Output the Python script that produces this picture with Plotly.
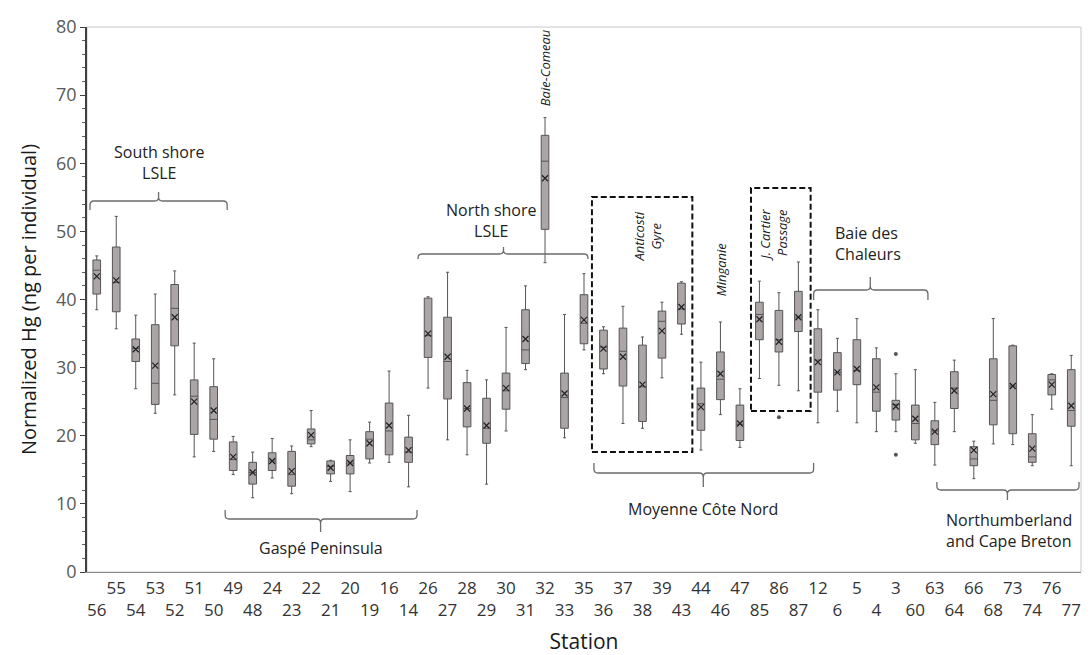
import plotly.graph_objects as go

# ---------------- data ----------------
stations = ["56", "55", "54", "53", "52", "51", "50", "49", "48", "24", "23", "22", "21",
            "20", "19", "16", "14", "26", "27", "28", "29", "30", "31", "32", "33", "35",
            "36", "37", "38", "39", "43", "44", "46", "47", "85", "86", "87", "12", "6",
            "5", "4", "3", "60", "63", "64", "66", "68", "73", "74", "76", "77"]

lower_whisker = [38.5, 35.7, 26.9, 23.3, 26.0, 16.9, 17.7, 14.3, 10.9, 13.8, 11.5, 18.4, 13.3,
                 11.8, 16.0, 16.1, 12.5, 27.0, 19.4, 17.2, 12.9, 20.7, 29.7, 45.4, 19.7, 32.6,
                 29.1, 21.8, 21.1, 28.5, 34.9, 17.9, 23.1, 18.3, 28.4, 27.4, 26.6, 21.9, 23.6,
                 21.9, 20.6, 20.6, 18.9, 15.7, 20.6, 13.7, 18.8, 18.7, 15.6, 23.9, 15.6]
q1 = [40.8, 38.2, 30.9, 24.6, 33.2, 20.2, 19.5, 14.9, 12.9, 14.9, 12.6, 18.8, 14.4,
      14.4, 16.6, 17.2, 16.1, 31.5, 25.4, 21.3, 18.9, 23.9, 30.6, 50.3, 21.1, 33.5,
      29.8, 27.3, 22.1, 31.4, 36.4, 20.8, 25.3, 19.3, 34.1, 32.3, 35.3, 26.4, 26.7,
      27.5, 23.6, 22.3, 19.4, 18.7, 24.0, 15.6, 21.6, 20.3, 16.1, 26.0, 21.4]
median = [44.3, 42.5, 32.8, 27.7, 38.7, 25.8, 22.4, 16.5, 14.6, 16.3, 14.3, 19.4, 15.5,
          16.0, 19.5, 20.7, 17.6, 34.7, 30.9, 24.0, 21.1, 26.6, 32.6, 60.3, 25.6, 36.5,
          33.0, 32.4, 27.2, 36.8, 38.6, 24.7, 28.3, 21.7, 37.8, 34.1, 37.4, 31.1, 29.3,
          29.6, 26.4, 24.6, 21.8, 20.7, 27.0, 16.6, 25.2, 27.3, 16.9, 28.2, 23.7]
q3 = [45.8, 47.7, 34.2, 36.3, 42.2, 28.2, 27.2, 19.1, 16.1, 17.5, 17.7, 21.0, 16.3,
      17.1, 20.6, 24.8, 19.8, 40.2, 37.4, 27.8, 25.5, 29.2, 38.5, 64.1, 29.2, 40.7,
      35.5, 35.8, 33.3, 38.3, 42.4, 27.0, 32.3, 24.5, 39.6, 38.4, 41.2, 35.7, 32.2,
      34.1, 31.3, 25.2, 24.5, 22.2, 29.4, 18.4, 31.3, 33.2, 20.3, 29.0, 29.7]
upper_whisker = [46.4, 52.2, 37.7, 40.8, 44.2, 33.6, 31.3, 19.9, 17.6, 19.6, 18.5, 23.7, 16.4,
                 19.4, 22.0, 29.5, 23.0, 40.4, 44.0, 29.6, 28.2, 35.9, 42.0, 66.7, 37.8, 43.8,
                 36.0, 39.0, 34.5, 39.6, 42.6, 30.8, 36.7, 26.9, 42.7, 41.0, 45.5, 38.5, 34.3,
                 37.2, 32.9, 29.1, 29.7, 24.9, 31.1, 19.2, 37.2, 33.3, 23.1, 29.1, 31.8]
mean = [43.4, 42.8, 32.7, 30.3, 37.4, 25.0, 23.7, 16.9, 14.6, 16.3, 14.8, 20.1, 15.3,
        16.0, 18.9, 21.5, 17.9, 35.0, 31.6, 24.0, 21.5, 27.0, 34.2, 57.8, 26.2, 37.0,
        32.8, 31.6, 27.5, 35.4, 38.9, 24.2, 29.1, 21.8, 37.1, 33.8, 37.4, 30.8, 29.3,
        29.8, 27.1, 24.3, 22.5, 20.6, 26.6, 17.9, 26.1, 27.3, 18.1, 27.5, 24.4]

outlier_station = ["86", "3", "3"]
outlier_value = [22.7, 32.0, 17.2]

# two-row tick labels: alternate stations on upper / lower row
tick_text = [s if i % 2 == 1 else "<br>" + s for i, s in enumerate(stations)]

# ---------------- helpers (reference pixel -> paper / data) ----------------
OFF = 8                       # default page body margin of the html page
W, H = 1091 - OFF, 655 - OFF
PL, PR, PT, PB = 87, 1087, 27, 572   # plot area as measured on the reference
PR_DRAW = 1081                        # drawn right edge (kept inside the visible page)
YMAX = 80.0


def X(px):
    return (px - PL) / (PR - PL)


def Y(py):
    return (PB - py) * YMAX / (PB - PT)


def bracket(x0, x1, xt, yline, yend, ytip, r=4):
    s = 1 if yend > yline else -1
    t = -s
    pts = [
        f"M {X(x0):.5f},{Y(yend):.4f}",
        f"L {X(x0):.5f},{Y(yline + s * r):.4f}",
        f"Q {X(x0):.5f},{Y(yline):.4f} {X(x0 + r):.5f},{Y(yline):.4f}",
        f"L {X(xt - r):.5f},{Y(yline):.4f}",
        f"Q {X(xt):.5f},{Y(yline):.4f} {X(xt):.5f},{Y(yline + t * r):.4f}",
        f"L {X(xt):.5f},{Y(ytip):.4f}",
        f"M {X(xt):.5f},{Y(yline + t * r):.4f}",
        f"Q {X(xt):.5f},{Y(yline):.4f} {X(xt + r):.5f},{Y(yline):.4f}",
        f"L {X(x1 - r):.5f},{Y(yline):.4f}",
        f"Q {X(x1):.5f},{Y(yline):.4f} {X(x1):.5f},{Y(yline + s * r):.4f}",
        f"L {X(x1):.5f},{Y(yend):.4f}",
    ]
    return dict(type="path", xref="paper", yref="y", path=" ".join(pts),
                line=dict(color="#6b6b6b", width=1.3))


# ---------------- figure ----------------
fig = go.Figure()

fig.add_trace(go.Box(
    x=stations, q1=q1, median=median, q3=q3,
    lowerfence=lower_whisker, upperfence=upper_whisker,
    fillcolor="#aba5a5", line=dict(color="#555555", width=1),
    whiskerwidth=0.4, boxpoints=False, showlegend=False, hoverinfo="skip",
))

fig.add_trace(go.Scatter(
    x=stations, y=mean, mode="markers",
    marker=dict(symbol="x-thin", size=6, line=dict(color="#222222", width=1.2)),
    showlegend=False, hoverinfo="skip",
))

fig.add_trace(go.Scatter(
    x=outlier_station, y=outlier_value, mode="markers",
    marker=dict(symbol="circle", size=4, color="#555555"),
    showlegend=False, hoverinfo="skip",
))

shapes = [
    dict(type="rect", xref="paper", yref="paper", x0=0, x1=1, y0=0, y1=1,
         line=dict(color="#c8c8c8", width=1), layer="below"),
    # dashed boxes
    dict(type="rect", xref="paper", yref="y", x0=X(595), x1=X(696), y0=Y(452), y1=Y(197),
         line=dict(color="#111111", width=2, dash="6px,3px")),
    dict(type="rect", xref="paper", yref="y", x0=X(755), x1=X(815), y0=Y(411), y1=Y(188),
         line=dict(color="#111111", width=2, dash="6px,3px")),
    # brackets
    bracket(90, 228, 159, 201, 210, 192),
    bracket(420, 591, 506, 254, 259, 247),
    bracket(818, 933, 875, 290, 300, 277),
    bracket(226, 419, 322, 519, 510, 532),
    bracket(597, 818, 707, 473, 463, 487),
    bracket(942, 1085, 1013, 490, 482, 500),
]

txt = dict(family="Open Sans", size=16, color="#222222")
itx = dict(family="Open Sans", size=12, color="#222222")
annotations = [
    dict(text="South shore<br>LSLE", x=X(159), y=Y(162), font=txt),
    dict(text="North shore<br>LSLE", x=X(493), y=Y(220), font=txt),
    dict(text="Baie des<br>Chaleurs", x=X(837), y=Y(243), font=txt, xanchor="left", align="left"),
    dict(text="Gaspé Peninsula", x=X(322), y=Y(548), font=txt),
    dict(text="Moyenne Côte Nord", x=X(707), y=Y(509), font=txt),
    dict(text="Northumberland<br>and Cape Breton", x=X(949), y=Y(530), font=txt,
         xanchor="left", align="left"),
    dict(text="<i>Baie-Comeau</i>", x=X(548), y=Y(68), font=dict(itx, size=13), textangle=-90),
    dict(text="<i>Anticosti<br>Gyre</i>", x=X(650), y=Y(237), font=dict(itx, size=13), textangle=-90),
    dict(text="<i>Minganie</i>", x=X(725), y=Y(269), font=dict(itx, size=13), textangle=-90),
    dict(text="<i>J. Cartier<br>Passage</i>", x=X(777), y=Y(235), font=dict(itx, size=13),
         textangle=-90, align="right"),
]
for a in annotations:
    a.setdefault("xref", "paper")
    a.setdefault("yref", "y")
    a.setdefault("showarrow", False)
    a.setdefault("xanchor", "center")
    a.setdefault("yanchor", "middle")

fig.update_layout(
    width=W, height=H,
    margin=dict(l=PL - OFF, r=W - (PR_DRAW - OFF), t=PT - OFF, b=H - (PB - OFF)),
    paper_bgcolor="white", plot_bgcolor="white",
    font=dict(family="Open Sans", color="#222222"),
    boxgap=0.44,
    shapes=shapes, annotations=annotations,
    xaxis=dict(
        type="category", categoryorder="array", categoryarray=stations,
        range=[-0.5, len(stations) - 0.5],
        tickmode="array", tickvals=stations, ticktext=tick_text, tickangle=0,
        tickfont=dict(size=17, color="#333333"), ticks="", showgrid=False,
        showline=True, linecolor="#8a8a8a", linewidth=1.2,
        title=dict(text="Station", font=dict(size=21, color="#1a1a1a"), standoff=17),
        automargin=False,
    ),
    yaxis=dict(
        range=[0, YMAX], dtick=10, showgrid=False, zeroline=False,
        showline=True, linecolor="#404040", linewidth=1.5,
        ticks="outside", ticklen=5, tickcolor="#404040",
        minor=dict(dtick=2, ticks="outside", ticklen=3, tickcolor="#606060"),
        tickfont=dict(size=18, color="#595959"),
        title=dict(text="Normalized Hg (ng per individual)", font=dict(size=20, color="#1a1a1a"),
                   standoff=14),
        automargin=False,
    ),
)

fig.write_html("out.html")
